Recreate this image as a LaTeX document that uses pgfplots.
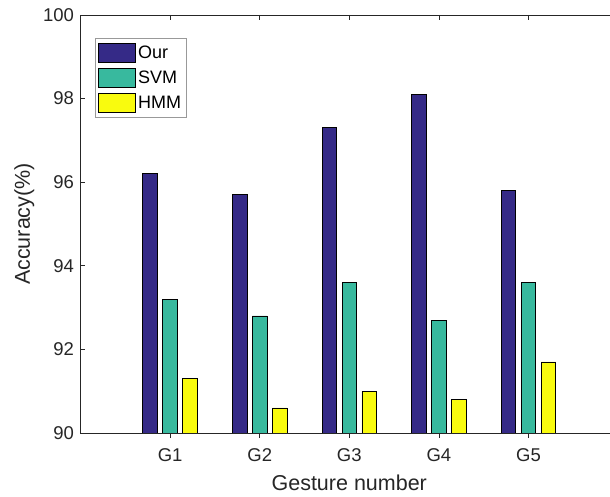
\documentclass[border=0pt]{standalone}
\usepackage{pgfplots}
\pgfplotsset{compat=1.18}
\usepackage{fontspec}
\setmainfont{Liberation Sans}
\definecolor{cOur}{HTML}{352A87}
\definecolor{cSVM}{HTML}{38B99E}
\definecolor{cHMM}{HTML}{F9FB0E}
\definecolor{axc}{HTML}{262626}
\begin{document}
\begin{tikzpicture}[x=1pt,y=1pt]
\useasboundingbox (0pt,0pt) rectangle (610pt,496pt);
\begin{axis}[
  at={(80.5pt,63pt)}, anchor=south west,
  scale only axis, width=529.5pt, height=418pt,
  xmin=0, xmax=5.9096, ymin=90, ymax=100,
  axis x line*=bottom, axis y line*=left,
  xtick={1,2,3,4,5}, xticklabels={G1,G2,G3,G4,G5},
  ytick={90,92,94,96,98,100},
  tick align=inside, major tick length=5pt,
  tick style={axc, line width=0.8pt},
  axis line style={draw=none},
  every tick label/.append style={font=\fontsize{18.5}{20}\selectfont, text=axc},
  /pgf/number format/assume math mode=true,
  xticklabel style={yshift=-7pt},
  yticklabel style={xshift=-3pt},
  xlabel={Gesture number}, ylabel={Accuracy(\%)},
  label style={font=\fontsize{21.5}{24}\selectfont, text=axc},
  xlabel style={yshift=-6pt, xshift=4pt},
  ylabel style={yshift=2pt},
  ybar, bar width=0.163,
  legend style={at={(0.0274,0.9457)}, anchor=north west, draw=gray!80, line width=0.8pt, fill=white,
    font=\fontsize{18}{20}\selectfont, inner xsep=3pt, inner ysep=5pt, row sep=5pt,
    cells={anchor=west}},
  legend image code/.code={\draw[#1, line width=0.8pt] (0pt,-9.5pt) rectangle (37pt,9.5pt);},
  after end axis/.code={
    \draw[axc, line width=0.8pt] (rel axis cs:1,1) -- (rel axis cs:0,1) -- (rel axis cs:0,0) -- (rel axis cs:1,0);
    \foreach \t in {1,2,3,4,5} {\draw[axc, line width=0.8pt] (axis cs:\t,100) -- ++(0pt,-5pt);}
  },
]
\addplot[fill=cOur, draw=black, line width=0.8pt, bar shift=-0.223] coordinates {(1,96.2) (2,95.7) (3,97.3) (4,98.1) (5,95.8)};
\addplot[fill=cSVM, draw=black, line width=0.8pt, bar shift=0] coordinates {(1,93.2) (2,92.8) (3,93.6) (4,92.7) (5,93.6)};
\addplot[fill=cHMM, draw=black, line width=0.8pt, bar shift=0.223] coordinates {(1,91.3) (2,90.6) (3,91.0) (4,90.8) (5,91.7)};
\legend{Our,SVM,HMM}
\end{axis}
\end{tikzpicture}
\end{document}
